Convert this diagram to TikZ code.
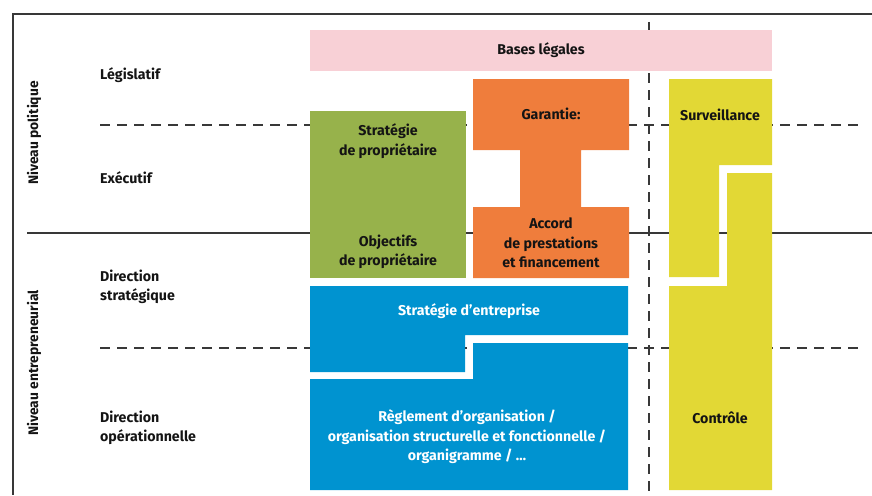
\documentclass[tikz,border=0pt]{standalone}
\usepackage{fontspec}
\setmainfont{Fira Sans}
\begin{document}
\begin{tikzpicture}[x=1pt,y=-1pt,
  frameline/.style={draw=black!78,line width=1.3pt},
  guideline/.style={draw=black!78,line width=1.2pt,dash pattern=on 10pt off 7pt},
  lbl/.style={font=\fontsize{14.2}{19.5}\selectfont\bfseries,align=left,anchor=west,inner sep=0pt,text=black!92},
  boxtxt/.style={font=\fontsize{14.2}{19.5}\selectfont\bfseries,align=center,inner sep=0pt,text=black!92},
  sidetxt/.style={font=\fontsize{13.8}{15}\selectfont\bfseries,rotate=90,inner sep=0pt,text=black!92}]
\definecolor{pinkfill}{HTML}{F8D0D6}
\definecolor{greenfill}{HTML}{97B24B}
\definecolor{orangefill}{HTML}{EF7D3C}
\definecolor{bluefill}{HTML}{0093D0}
\definecolor{yellowfill}{HTML}{E2D835}
\useasboundingbox (0,0) rectangle (872,495);

% frame and level separators
\coordinate (tl) at (13,14);
\coordinate (tr) at (872,14);
\coordinate (bl) at (13,495);
\draw[frameline] (tr) -- (tl) -- (bl);
\coordinate (midL) at (27,233);
\coordinate (midR) at (872,233);
\draw[frameline] (midL) -- (midR);
\coordinate (d1L) at (100,125);
\coordinate (d1R) at (862,125);
\draw[guideline] (d1L) -- (d1R);
\coordinate (d2L) at (100,348);
\coordinate (d2R) at (862,348);
\draw[guideline] (d2L) -- (d2R);
\coordinate (vT) at (649,22);
\coordinate (vB) at (649,492);
\draw[guideline] (vT) -- (vB);

% boxes
\fill[pinkfill] (310,30) rectangle (772,71);
\fill[greenfill] (310,111) rectangle (466,278);
\fill[orangefill] (473,79) -- (629,79) -- (629,150) -- (581,150) -- (581,207)
  -- (629,207) -- (629,278) -- (473,278) -- (473,207) -- (520,207) -- (520,150)
  -- (473,150) -- cycle;
\fill[bluefill] (310,286) -- (628,286) -- (628,335) -- (465,335) -- (465,372)
  -- (310,372) -- cycle;
\fill[bluefill] (473,343) -- (628,343) -- (628,490) -- (310,490) -- (310,379)
  -- (473,379) -- cycle;
\fill[yellowfill] (669,79) -- (772,79) -- (772,165) -- (719,165) -- (719,277)
  -- (669,277) -- cycle;
\fill[yellowfill] (727,173) -- (772,173) -- (772,490) -- (669,490) -- (669,286)
  -- (727,286) -- cycle;

% row labels
\node[sidetxt] (pol) at (34,133) {Niveau politique};
\node[sidetxt] (ent) at (34,363) {Niveau entrepreneurial};
\node[lbl] (leg) at (100,75) {Législatif};
\node[lbl] (exe) at (100,178) {Exécutif};
\node[lbl] (dstr) at (100,287) {Direction\\stratégique};
\node[lbl] (dop) at (100,428) {Direction\\opérationnelle};

% box texts
\node[boxtxt] (bases) at (541,50) {Bases légales};
\node[boxtxt] (strprop) at (388,141) {Stratégie\\de propriétaire};
\node[boxtxt] (objprop) at (388,252) {Objectifs\\de propriétaire};
\node[boxtxt] (gar) at (551,114) {Garantie:};
\node[boxtxt] (accord) at (551,243) {Accord\\de prestations\\et financement};
\node[boxtxt,text=white] (strent) at (469,311) {Stratégie d’entreprise};
\node[boxtxt,text=white] (regl) at (467,437) {Règlement d’organisation /\\organisation structurelle et fonctionnelle /\\organigramme / …};
\node[boxtxt] (surv) at (720,115) {Surveillance};
\node[boxtxt] (ctrl) at (720,418) {Contrôle};
\end{tikzpicture}
\end{document}
